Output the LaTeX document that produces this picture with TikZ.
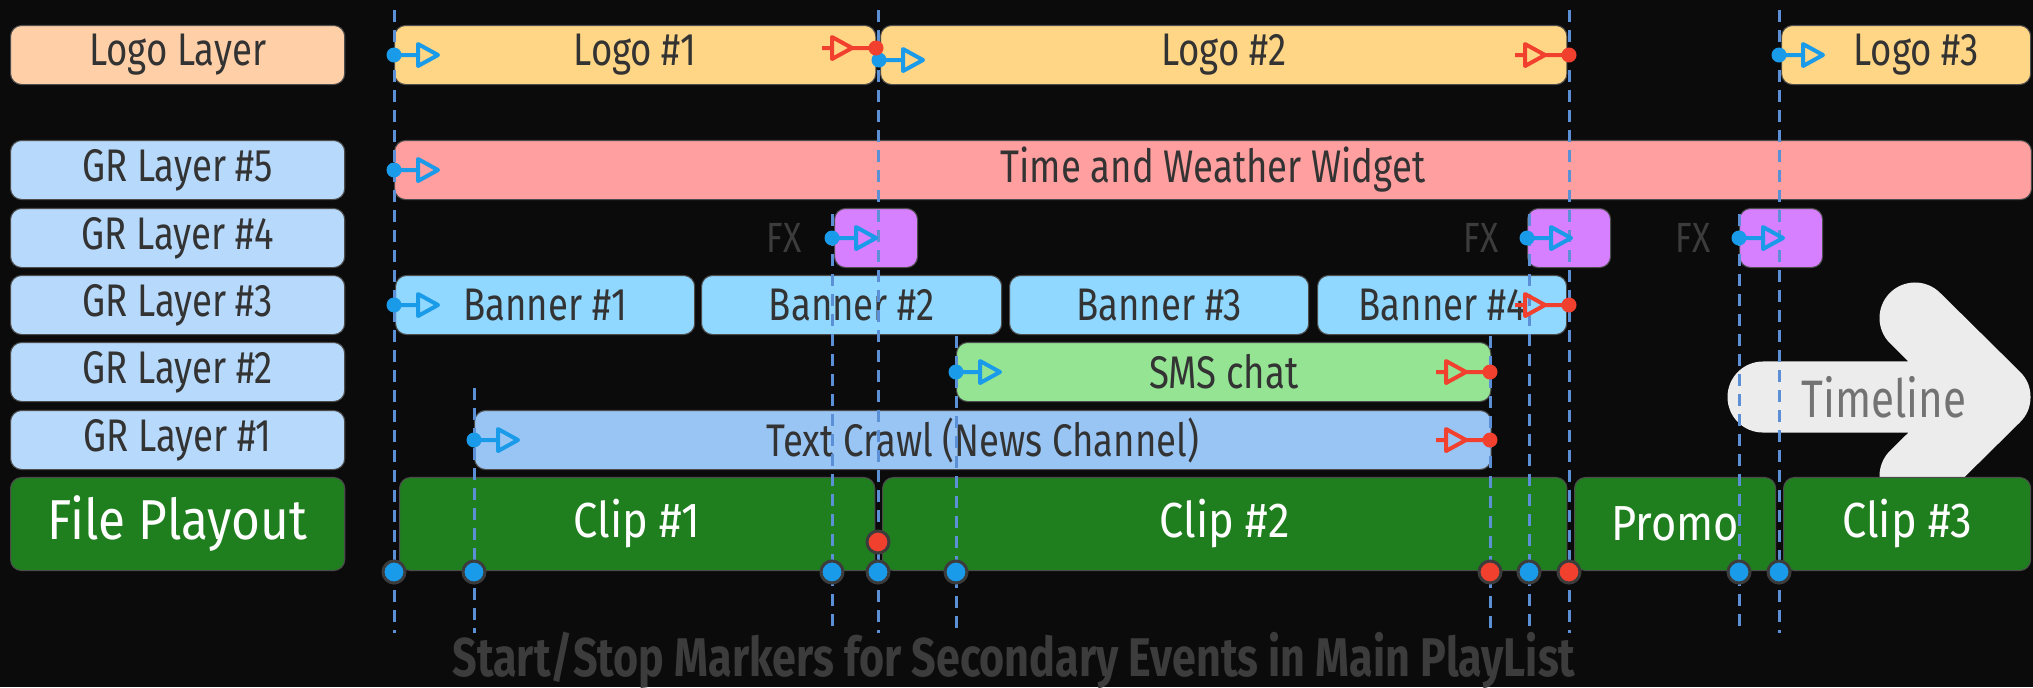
\documentclass[tikz,border=0pt]{standalone}
\usepackage{fontspec}
\setmainfont{Fira Sans}[FakeStretch=0.80]
\newfontfamily\playfont{Fira Sans}[FakeStretch=0.88]
\newfontfamily\captionfont{Fira Sans}[FakeStretch=0.79]
\usepackage{xcolor}
\definecolor{BGcolor}{HTML}{0B0B0B}
\definecolor{LOGOlabel}{HTML}{FFD0A8}
\definecolor{LOGOcolor}{HTML}{FFD685}
\definecolor{GRlabel}{HTML}{B7D9FB}
\definecolor{WIDGETcolor}{HTML}{FF9F9F}
\definecolor{FXcolor}{HTML}{D67FFF}
\definecolor{BANNERcolor}{HTML}{90D8FF}
\definecolor{SMScolor}{HTML}{94E494}
\definecolor{CRAWLcolor}{HTML}{99C5F4}
\definecolor{PLAYcolor}{HTML}{1F7F1F}
\definecolor{STARTcolor}{HTML}{1A9BEA}
\definecolor{STOPcolor}{HTML}{F2402E}
\definecolor{GUIDEcolor}{HTML}{5B8FD6}
\definecolor{TEXTcolor}{HTML}{333333}
\definecolor{DIMcolor}{HTML}{3C3C3C}
\definecolor{ARROWcolor}{HTML}{ECECEC}
\usepackage{tikz}

\begin{document}
\begin{tikzpicture}[x=0.01cm, y=-0.01cm]
    \tikzset{%
        slot/.style={rounded corners=0.11cm, inner sep=0, anchor=west,
                minimum height=0.59cm, draw=black!70, line width=0.3pt,
                text=TEXTcolor, font=\fontsize{13pt}{13pt}\selectfont},
        playbox/.style={slot, fill=PLAYcolor, text=white, minimum height=0.93cm,
                font=\playfont\fontsize{14pt}{14pt}\selectfont},
        guide/.style={GUIDEcolor, line width=0.03cm, dash pattern=on 0.12cm off 0.08cm},
        dotmark/.style={circle, inner sep=0, minimum size=0.22cm, draw=DIMcolor, line width=0.03cm},
        pics/startmark/.style={code={%
                        \draw [STARTcolor, line width=0.04cm, line join=round]
                            (0, 0) -- (24, 0) (24, -11) -- (44, 0) -- (24, 11) -- cycle;
                        \fill [STARTcolor] (0, 0) circle (0.075cm);
                    }
            },
        pics/stopmark/.style={code={%
                        \draw [STOPcolor, line width=0.04cm, line join=round]
                            (-54, 0) -- (-44, 0) (-44, -11) -- (-24, 0) -- (-44, 11) -- cycle
                            (-24, 0) -- (0, 0);
                        \fill [STOPcolor] (0, 0) circle (0.075cm);
                    }
            }
    }

    \fill [BGcolor] (0, 0) rectangle (2033, 687);
    \useasboundingbox (0, 0) rectangle (2033, 687);

    % timeline arrow
    \draw [ARROWcolor, line width=0.71cm, line cap=round, line join=round]
        (1763, 397) -- (1995, 397) (1915, 318) -- (1995, 397) -- (1915, 476);
    \node [text=black!55, font=\fontsize{15pt}{15pt}\selectfont] (timeline) at (1884, 397) {Timeline};

    % layers
    \node [slot, fill=LOGOlabel, minimum width=3.34cm] (logolayer) at (10, 55) {Logo Layer};
    \foreach \n/\yy in {5/170, 4/238, 3/305, 2/372, 1/440} {%
            \node [slot, fill=GRlabel, minimum width=3.34cm] (grlayer\n) at (10, \yy) {GR Layer \#\n};
        }
    \node [playbox, minimum width=3.34cm, font=\playfont\fontsize{16pt}{16pt}\selectfont] (playout) at (10, 524) {File Playout};

    % logo
    \node [slot, fill=LOGOcolor, minimum width=4.81cm] (logoA) at (394, 55) {Logo \#1};
    \node [slot, fill=LOGOcolor, minimum width=6.86cm] (logoB) at (880, 55) {Logo \#2};
    \node [slot, fill=LOGOcolor, minimum width=2.49cm] (logoC) at (1781, 55) {\hspace*{0.2cm}Logo \#3};
    % GR layers
    \node [slot, fill=WIDGETcolor, minimum width=16.36cm] (widget) at (394, 170) {Time and Weather Widget};
    \foreach \n/\xx/\lx in {A/834/784, B/1527/1481, C/1739/1693} {%
            \node [slot, fill=FXcolor, minimum width=0.83cm] (fx\n) at (\xx, 238) {};
            \node [text=DIMcolor, font=\fontsize{12pt}{12pt}\selectfont] (fxlabel\n) at (\lx, 238) {FX};
        }
    \node [slot, fill=BANNERcolor, minimum width=2.99cm] (bannerA) at (395, 305) {Banner \#1};
    \node [slot, fill=BANNERcolor, minimum width=3.00cm] (bannerB) at (701, 305) {Banner \#2};
    \node [slot, fill=BANNERcolor, minimum width=2.99cm] (bannerC) at (1009, 305) {Banner \#3};
    \node [slot, fill=BANNERcolor, minimum width=2.49cm] (bannerD) at (1317, 305) {Banner \#4};
    \node [slot, fill=SMScolor, minimum width=5.34cm] (sms) at (956, 372) {SMS chat};
    \node [slot, fill=CRAWLcolor, minimum width=10.16cm] (crawl) at (474, 440) {Text Crawl (News Channel)};
    % file playout
    \node [playbox, minimum width=4.75cm] (clipA) at (399, 524) {Clip \#1};
    \node [playbox, minimum width=6.84cm] (clipB) at (882, 524) {Clip \#2};
    \node [playbox, minimum width=2.01cm] (promo) at (1574, 524) {Promo};
    \node [playbox, minimum width=2.47cm] (clipC) at (1783, 524) {Clip \#3};

    % guides
    \foreach \n/\xx/\yy in {1/394/10, 2/474/388, 3/832/214, 4/878/10, 5/956/336,
            6/1490/336, 7/1529/214, 8/1569/10, 9/1739/214, 10/1779/10} {%
            \coordinate (top\n) at (\xx, \yy);
            \coordinate (bot\n) at (\xx, 633);
            \draw [guide] (top\n) -- (bot\n);
        }

    % start / stop
    \foreach \xx/\yy in {394/55, 879/60, 1779/55, 394/170, 832/238, 1527/238, 1739/238,
            394/305, 956/372, 474/440} {%
            \pic at (\xx, \yy) {startmark};
        }
    \foreach \xx/\yy in {876/48, 1569/55, 1569/305, 1490/372, 1490/440} {%
            \pic at (\xx, \yy) {stopmark};
        }

    % markers in main playlist
    \foreach \n in {1, 2, 3, 4, 5, 7, 9, 10} {%
            \node [dotmark, fill=STARTcolor] (dot\n) at (bot\n |- 0, 572) {};
        }
    \foreach \n in {6, 8} {%
            \node [dotmark, fill=STOPcolor] (dot\n) at (bot\n |- 0, 572) {};
        }
    \node [dotmark, fill=STOPcolor] (dotstop) at (bot4 |- 0, 542) {};

    \node [text=DIMcolor, font=\captionfont\bfseries\fontsize{15.5pt}{15.5pt}\selectfont] (caption) at (1014, 660)
        {Start/Stop Markers for Secondary Events in Main PlayList};
\end{tikzpicture}
\end{document}
